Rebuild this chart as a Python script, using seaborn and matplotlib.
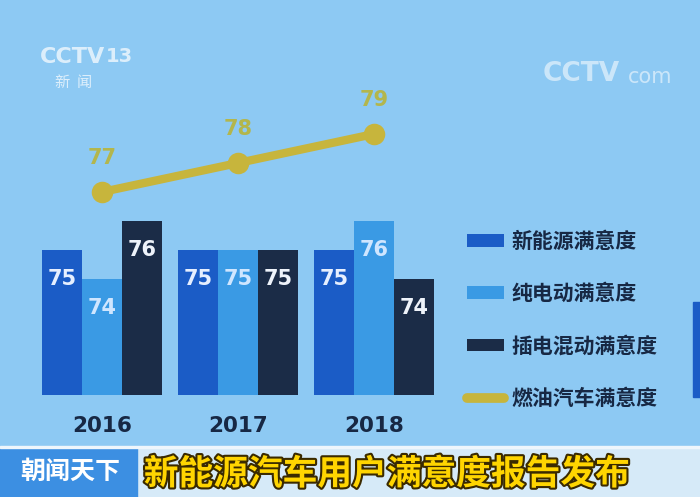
import matplotlib.pyplot as plt
import matplotlib.patheffects as pe
from matplotlib.patches import Patch, Rectangle
from matplotlib.lines import Line2D
import seaborn as sns
import pandas as pd

years = ['2016', '2017', '2018']
series = ['新能源满意度', '纯电动满意度', '插电混动满意度']
new_energy = [75, 75, 75]
pure_ev = [74, 75, 76]
phev = [76, 75, 74]
fuel_label = '燃油汽车满意度'
fuel = [77, 78, 79]

bar_colors = ['#1b5cc6', '#3a9ae4', '#1b2c47']
line_color = '#c7b53c'
bg = '#8dc9f3'
text_dark = '#172844'

sns.set_theme(style='white')
plt.rcParams['font.family'] = ['Noto Sans CJK SC', 'DejaVu Sans']

df_bars = pd.DataFrame({
    '年份': years * 3,
    '系列': [series[0]] * 3 + [series[1]] * 3 + [series[2]] * 3,
    '满意度': new_energy + pure_ev + phev,
})
df_line = pd.DataFrame({'年份': years, '满意度': fuel})

fig = plt.figure(figsize=(7, 4.97), dpi=100, facecolor=bg)
ax = fig.add_axes([34 / 700, 102 / 497, 408 / 700, 290 / 497])
ax.set_facecolor(bg)

sns.barplot(data=df_bars, x='年份', y='满意度', hue='系列', order=years,
            hue_order=series, palette=bar_colors, saturation=1, width=0.88,
            linewidth=0, legend=False, ax=ax)

label_colors = ['#e6efff', '#cfe6ff', '#eef3fa']
for cont, lc in zip(ax.containers, label_colors):
    for bar in cont:
        h = bar.get_height()
        ax.text(bar.get_x() + bar.get_width() / 2, h - 1.0, f'{h:.0f}',
                ha='center', va='center', color=lc, fontsize=15,
                fontweight='bold', family=['DejaVu Sans'])

sns.pointplot(data=df_line, x='年份', y='满意度', order=years, color=line_color,
              markersize=11, linewidth=6, ax=ax)
for line in ax.lines:
    line.set_clip_on(False)
for i, v in enumerate(fuel):
    ax.text(i, v + 1.18, f'{v}', ha='center', va='center', color='#b3b64c',
            fontsize=15, fontweight='bold', family=['DejaVu Sans'],
            clip_on=False)

ax.set_xlim(-0.5, 2.5)
ax.set_ylim(70, 80)
ax.set_yticks([])
ax.set_xlabel('')
ax.set_ylabel('')
ax.tick_params(axis='x', length=0, pad=15, labelsize=15.5, labelcolor=text_dark)
for t in ax.get_xticklabels():
    t.set_fontweight('bold')
    t.set_family(['DejaVu Sans'])
sns.despine(ax=ax, left=True, bottom=True)

handles = [Patch(facecolor=c, edgecolor='none') for c in bar_colors]
handles.append(Line2D([0], [0], color=line_color, linewidth=7))
leg = fig.legend(handles, series + [fuel_label], loc='upper left',
                 bbox_to_anchor=(448 / 700, 1 - 212 / 497), frameon=False,
                 fontsize=15, labelspacing=1.5, handlelength=1.8,
                 handleheight=0.55, handletextpad=0.35)
for t in leg.get_texts():
    t.set_color(text_dark)
    t.set_fontweight('bold')

# broadcast overlays
fig.add_artist(Rectangle((693 / 700, 100 / 497), 7 / 700, 95 / 497,
                         transform=fig.transFigure, color='#1b5cc6'))
fig.text(40 / 700, 1 - 57 / 497, 'CCTV', color='white', alpha=0.7,
         fontsize=16, fontweight='bold', va='center', family=['DejaVu Sans'])
fig.text(106 / 700, 1 - 57 / 497, '13', color='white', alpha=0.7,
         fontsize=14, fontweight='bold', va='center', family=['DejaVu Sans'])
fig.text(74 / 700, 1 - 82 / 497, '新  闻', color='white', alpha=0.7,
         fontsize=11, ha='center', va='center')
fig.text(543 / 700, 1 - 74 / 497, 'CCTV', color='white', alpha=0.55,
         fontsize=19, fontweight='bold', va='center', family=['DejaVu Sans'])
fig.text(628 / 700, 1 - 77 / 497, 'com', color='white', alpha=0.55,
         fontsize=15, va='center', family=['DejaVu Sans'])

fig.add_artist(Rectangle((0, 0), 1, 50 / 497, transform=fig.transFigure,
                         color='#d6eaf8'))
fig.add_artist(Rectangle((0, 0), 137 / 700, 50 / 497, transform=fig.transFigure,
                         color='#3c8fe2'))
fig.add_artist(Rectangle((0, 49 / 497), 1, 2 / 497, transform=fig.transFigure,
                         color='#eef6fc'))
fig.text(70 / 700, 25 / 497, '朝闻天下', color='white', fontsize=18,
         fontweight='bold', ha='center', va='center')
fig.text(387 / 700, 23 / 497, '新能源汽车用户满意度报告发布', color='#ffd500',
         fontsize=25, fontweight='bold', ha='center', va='center',
         path_effects=[pe.withStroke(linewidth=3, foreground='#3a2a00')])

fig.savefig('out.png', dpi=100, facecolor=bg)
